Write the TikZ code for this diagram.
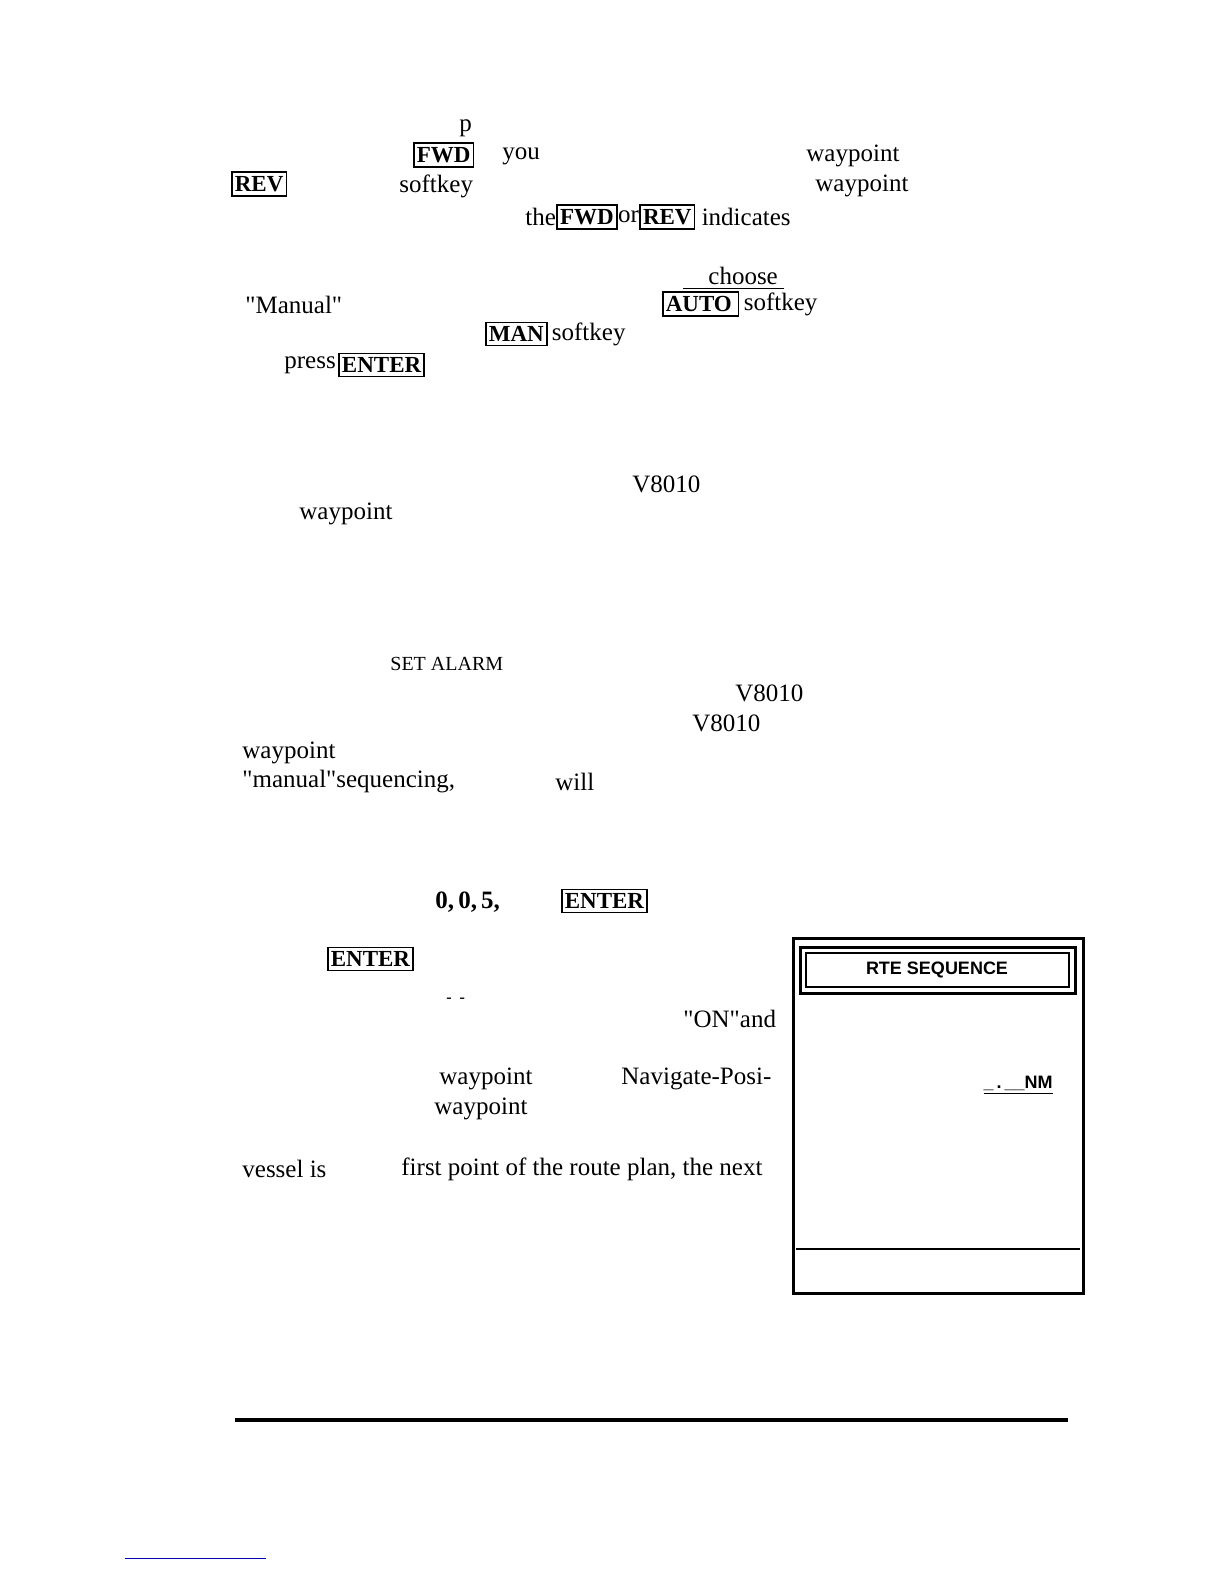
\documentclass[tikz,border=0pt]{standalone}
\usepackage{fontspec}
\setmainfont{Liberation Serif}
\setsansfont{Liberation Sans}
\usetikzlibrary{positioning}
\tikzset{
  txt/.style={anchor=west,inner sep=0pt,font=\fontsize{12.5}{14}\selectfont},
  key/.style={draw,line width=0.8pt,anchor=west,inner xsep=1.5pt,inner ysep=2pt,
    font=\fontsize{11.5}{13}\selectfont\bfseries},
}
\begin{document}
\begin{tikzpicture}[x=0.5pt,y=-0.5pt]
  \useasboundingbox (0,0) rectangle (1224,1584);
  % upper paragraph
  \node [txt] (p) at (459,128) {p};
  \node [key] (fwd1) at (413,155) {FWD};
  \node [txt] (you) at (502,156) {you};
  \node [txt] (wp1) at (806,156) {waypoint};
  \node [key] (rev1) at (231,184) {REV};
  \node [txt] (sk1) at (399,186) {softkey};
  \node [txt] (wp2) at (815,186) {waypoint};
  \node [txt] (the) at (525,217) {the};
  \node [key,right=0pt of the] (fwd2) {FWD};
  \node [txt,right=0pt of fwd2] (or) {or};
  \node [key,right=0pt of or] (rev2) {REV};
  \node [txt,right=3pt of rev2] (ind) {indicates};
  \node [txt] (choose) at (708,276) {choose};
  \draw (683,288) -- (784,288);
  \node [txt] (manual) at (245,305) {\textquotedbl Manual\textquotedbl};
  \node [key] (auto) at (662,304) {AUTO\,};
  \node [txt,right=2pt of auto] (sk2) {softkey};
  \node [key] (man) at (485,334) {MAN};
  \node [txt,right=2pt of man] (sk3) {softkey};
  \node [txt] (press) at (284,365) {press};
  \node [key,right=1pt of press] (ent1) {ENTER};
  % middle
  \node [txt] (v1) at (632,484) {V8010};
  \node [txt] (wp3) at (299,514) {waypoint};
  \node [txt,font=\fontsize{10}{12}\selectfont] (alarm) at (390,664) {SET ALARM};
  \node [txt] (v2) at (735,693) {V8010};
  \node [txt] (v3) at (692,723) {V8010};
  \node [txt] (wp4) at (242,753) {waypoint};
  \node [txt] (seq) at (242,782) {\textquotedbl manual\textquotedbl sequencing,};
  \node [txt] (will) at (555,782) {will};
  % lower
  \node [txt,font=\fontsize{12.5}{14}\selectfont\bfseries] (num) at (435,902) {0,\,0,\,5,};
  \node [key] (ent2) at (561,901) {ENTER};
  \node [key] (ent3) at (327,959) {ENTER};
  \node [txt,font=\fontsize{8}{9}\selectfont\bfseries] (dash) at (446,1000) {-\ \ -};
  \node [txt] (on) at (683,1019) {\textquotedbl ON\textquotedbl and};
  \node [txt] (wp5) at (439,1079) {waypoint};
  \node [txt] (nav) at (621,1079) {Navigate-Posi-};
  \node [txt] (wp6) at (434,1109) {waypoint};
  \node [txt] (vessel) at (242,1169) {vessel is};
  \node [txt] (first) at (401,1169) {first point of the route plan, the next};
  % screen
  \draw [line width=1.5pt] (793,938) rectangle (1083,1293);
  \draw [line width=1.5pt] (800,947) rectangle (1075,993);
  \draw [line width=0.8pt] (806,953) rectangle (1069,987);
  \node [font=\sffamily\bfseries\fontsize{9}{11}\selectfont] (title) at (937,970) {RTE SEQUENCE};
  \draw [line width=1pt] (796,1249) -- (1080,1249);
  \node [anchor=east,inner sep=0pt,font=\sffamily\bfseries\fontsize{9}{11}\selectfont] (nm) at (1053,1085) {\underline{\_\,.\,\_\_NM}};
  % rule
  \draw [line width=1.6pt] (235,1420) -- (1068,1420);
  \draw [blue!70!black,line width=0.5pt] (125,1558) -- (266,1558);
\end{tikzpicture}
\end{document}
